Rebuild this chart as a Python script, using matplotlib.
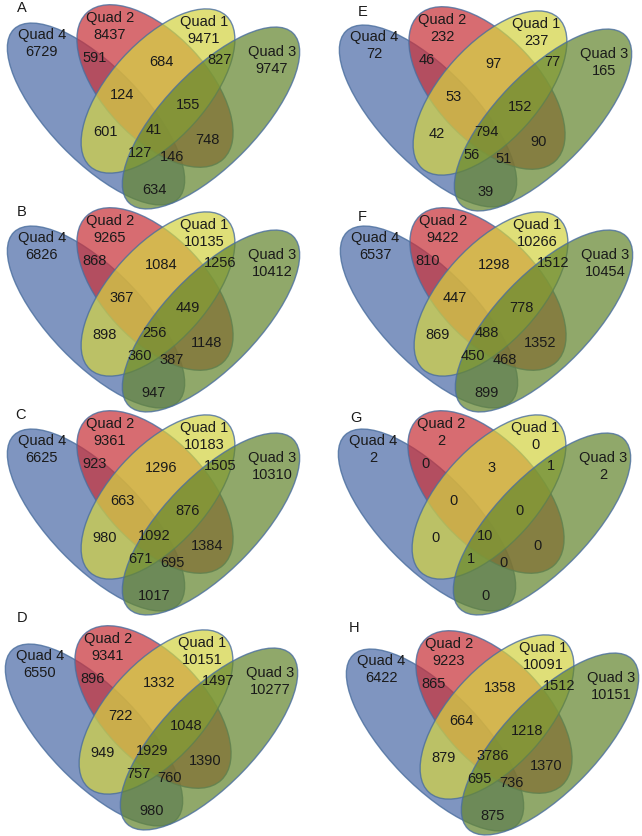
import matplotlib
matplotlib.use('Agg')
import matplotlib.pyplot as plt
from matplotlib.patches import Ellipse

# region counts, order:
# Q4, Q2, Q1, Q3, Q4Q2, Q2Q1, Q1Q3, Q4Q2Q1, Q2Q1Q3, Q4Q1, all, Q2Q3, Q4Q1Q3, Q4Q2Q3, Q4Q3
panel_A = [6729, 8437, 9471, 9747, 591, 684, 827, 124, 155, 601, 41, 748, 127, 146, 634]
panel_B = [6826, 9265, 10135, 10412, 868, 1084, 1256, 367, 449, 898, 256, 1148, 360, 387, 947]
panel_C = [6625, 9361, 10183, 10310, 923, 1296, 1505, 663, 876, 980, 1092, 1384, 671, 695, 1017]
panel_D = [6550, 9341, 10151, 10277, 896, 1332, 1497, 722, 1048, 949, 1929, 1390, 757, 760, 980]
panel_E = [72, 232, 237, 165, 46, 97, 77, 53, 152, 42, 794, 90, 56, 51, 39]
panel_F = [6537, 9422, 10266, 10454, 810, 1298, 1512, 447, 778, 869, 488, 1352, 450, 468, 899]
panel_G = [2, 2, 0, 2, 0, 3, 1, 0, 0, 0, 10, 0, 1, 0, 0]
panel_H = [6422, 9223, 10091, 10151, 865, 1358, 1512, 664, 1218, 879, 3786, 1370, 695, 736, 875]

panel_letters = ['A', 'B', 'C', 'D', 'E', 'F', 'G', 'H']
panel_values = [panel_A, panel_B, panel_C, panel_D, panel_E, panel_F, panel_G, panel_H]
set_names = ['Quad 4', 'Quad 2', 'Quad 1', 'Quad 3']

# layout (pixels, y down)
offsets = [(0, 0), (0, 203), (0, 406), (-2, 621),
           (332, 2), (333, 203), (331, 406), (339, 626)]
letter_pos = [(22, 8), (22, 212), (21, 415), (22, 618),
              (363, 12), (362, 217), (356, 418), (354, 628)]

# ellipse: center, width, height, angle, colour (drawing order blue, red, yellow, green)
ellipses = [((96, 115), 236, 94, 46, '#4e6ca8'),
            ((155, 87), 200, 104, 47, '#c8333b'),
            ((158, 92), 203, 97, -48, '#d3d344'),
            ((211, 119), 236, 94, -46, '#668730')]

name_pos = [(42, 35), (110, 18), (204, 22), (272, 52)]
region_pos = [(95, 58), (161, 62), (220, 60), (122, 95), (188, 105), (105, 132),
              (154, 130), (207, 140), (140, 153), (172, 157), (154, 190)]

fig = plt.figure(figsize=(6.42, 8.37), dpi=100)
ax = fig.add_axes([0, 0, 1, 1])
ax.set_xlim(0, 642)
ax.set_ylim(837, 0)
ax.axis('off')

font = dict(family=['Liberation Sans', 'DejaVu Sans'], size=10.5, color='#1a1a1a',
            ha='center', va='center')

for i, vals in enumerate(panel_values):
    ox, oy = offsets[i]
    for k, (c, w, h, ang, col) in enumerate(ellipses):
        e = Ellipse((c[0] + ox, c[1] + oy), w, h, angle=ang,
                    facecolor=col, alpha=0.72, edgecolor='none', zorder=2 + k)
        ax.add_patch(e)
        e2 = Ellipse((c[0] + ox, c[1] + oy), w, h, angle=ang,
                     facecolor='none', edgecolor='#4a6e9e', lw=1.0, alpha=0.8, zorder=2 + k)
        ax.add_patch(e2)
    for k in range(4):
        x, y = name_pos[k]
        ax.text(x + ox, y + oy, set_names[k], zorder=10, **font)
        ax.text(x + ox, y + oy + 17, str(vals[k]), zorder=10, **font)
    for k, (x, y) in enumerate(region_pos):
        ax.text(x + ox, y + oy, str(vals[4 + k]), zorder=10, **font)
    lx, ly = letter_pos[i]
    ax.text(lx, ly, panel_letters[i], zorder=10, **font)

fig.savefig('out.png', dpi=100)
